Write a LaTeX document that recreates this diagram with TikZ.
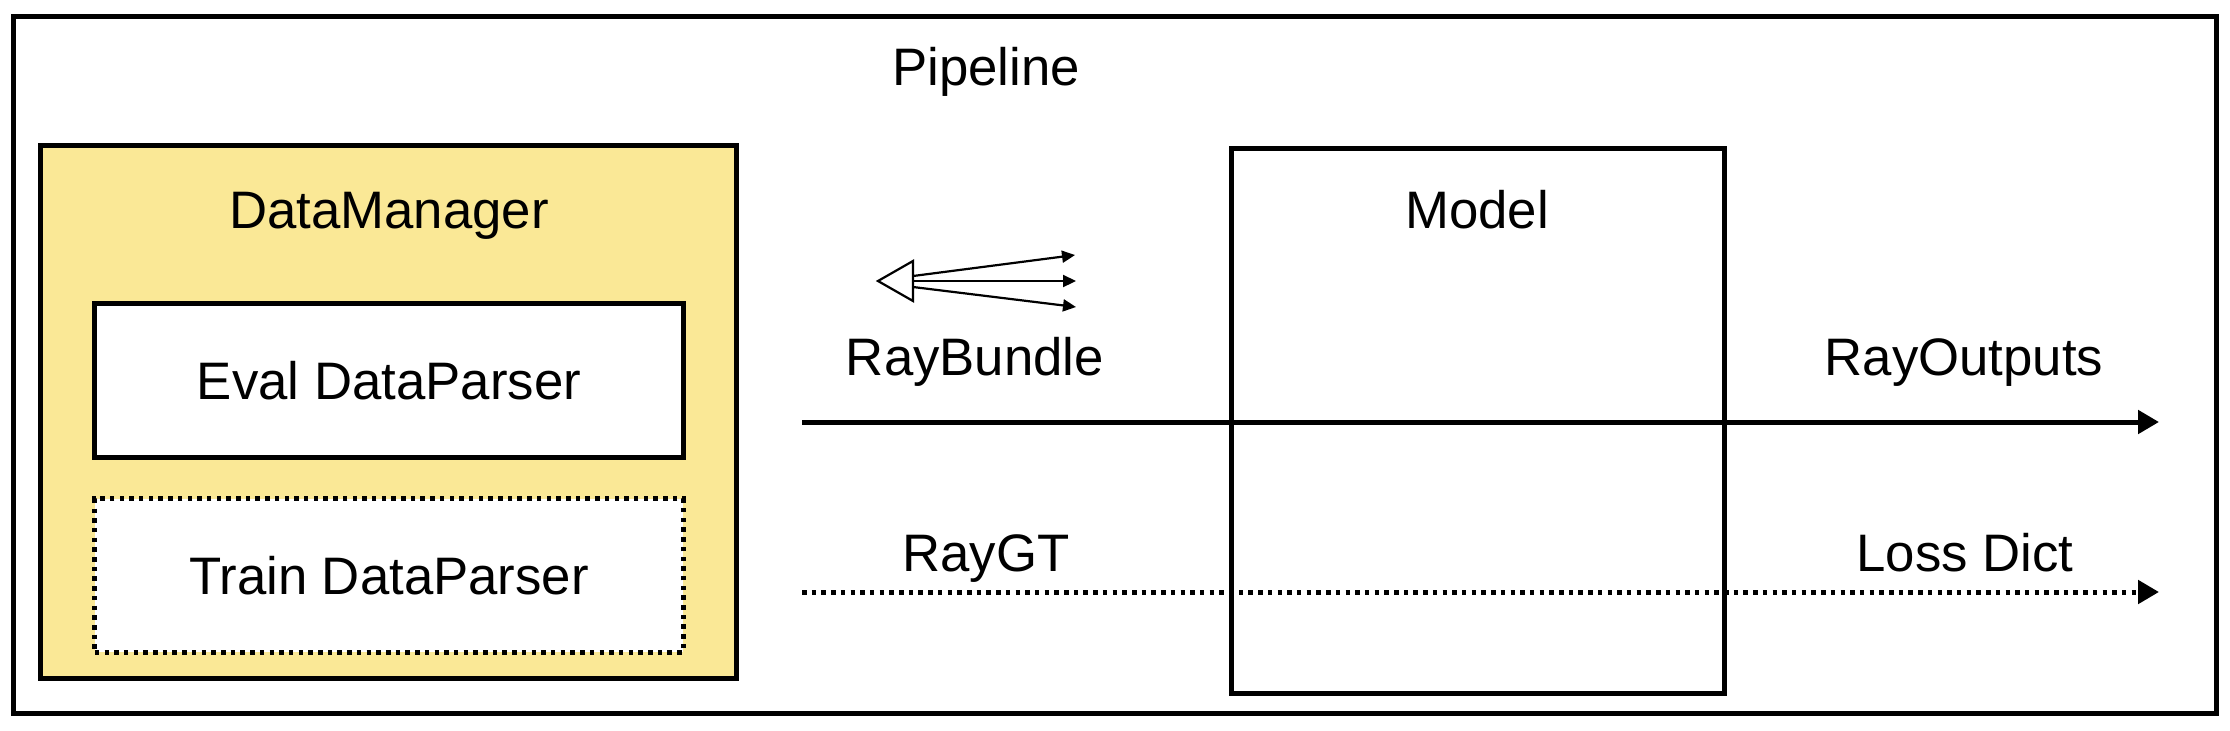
\documentclass[tikz,border=0pt]{standalone}
\usepackage{fontspec}
\setmainfont{Liberation Sans}
\usetikzlibrary{arrows.meta}
\definecolor{dmyellow}{HTML}{FAE896}
\begin{document}
\begin{tikzpicture}[x=0.01cm,y=-0.01cm,
  box/.style={draw, line width=0.05cm, inner sep=0pt, outer sep=0pt},
  txt/.style={font=\fontsize{15}{18}\selectfont},
  lbl/.style={txt, inner sep=0pt, anchor=base},
  flow/.style={line width=0.05cm, -{Triangle[length=0.21cm,width=0.23cm]}},
  dots/.style={dash pattern=on 0.045cm off 0.052cm},
  ray/.style={line width=0.022cm, -{Triangle[length=0.13cm,width=0.12cm]}}
]
\useasboundingbox (0,0) rectangle (2230,730);
% Pipeline
\node[box, minimum width=22.02cm, minimum height=6.96cm] (pipeline) at (1115,365) {};
\node[lbl] (pipelinelbl) at (986,85) {Pipeline};
% DataManager
\node[box, fill=dmyellow, minimum width=6.95cm, minimum height=5.32cm] (dm) at (388.5,412) {};
\node[lbl] (dmlbl) at (389,228) {DataManager};
\node[box, txt, fill=white, minimum width=5.88cm, minimum height=1.53cm] (eval) at (389,380.5) {Eval DataParser};
\node[box, txt, dots, fill=white, minimum width=5.88cm, minimum height=1.53cm] (train) at (389,575.5) {Train DataParser};
% Model
\node[box, minimum width=4.92cm, minimum height=5.44cm] (model) at (1478,421) {};
\node[lbl] (modellbl) at (1477,228) {Model};
% flows
\coordinate (s1) at (802,422);
\coordinate (e1) at (2159,422);
\draw[flow] (s1) -- (e1);
\coordinate (s2) at (802,592);
\coordinate (e2) at (2159,592);
\draw[flow, dots] (s2) -- (e2);
\node[lbl] (raybundle) at (975,375) {RayBundle};
\node[lbl] (rayoutputs) at (1964,375) {RayOutputs};
\node[lbl] (raygt) at (986,571) {RayGT};
\node[lbl] (lossdict) at (1965,571) {Loss Dict};
% bundle icon
\coordinate (bt) at (878,281);
\coordinate (bb1) at (913,261);
\coordinate (bb2) at (913,301);
\coordinate (o1s) at (913,276);
\coordinate (o2s) at (913,281);
\coordinate (o3s) at (913,287);
\coordinate (o1e) at (1075,255);
\coordinate (o2e) at (1076,281);
\coordinate (o3e) at (1076,307);
\draw[ray] (o1s) -- (o1e);
\draw[ray] (o2s) -- (o2e);
\draw[ray] (o3s) -- (o3e);
\draw[line width=0.022cm, fill=white, line join=miter] (bt) -- (bb1) -- (bb2) -- cycle;
\end{tikzpicture}
\end{document}
